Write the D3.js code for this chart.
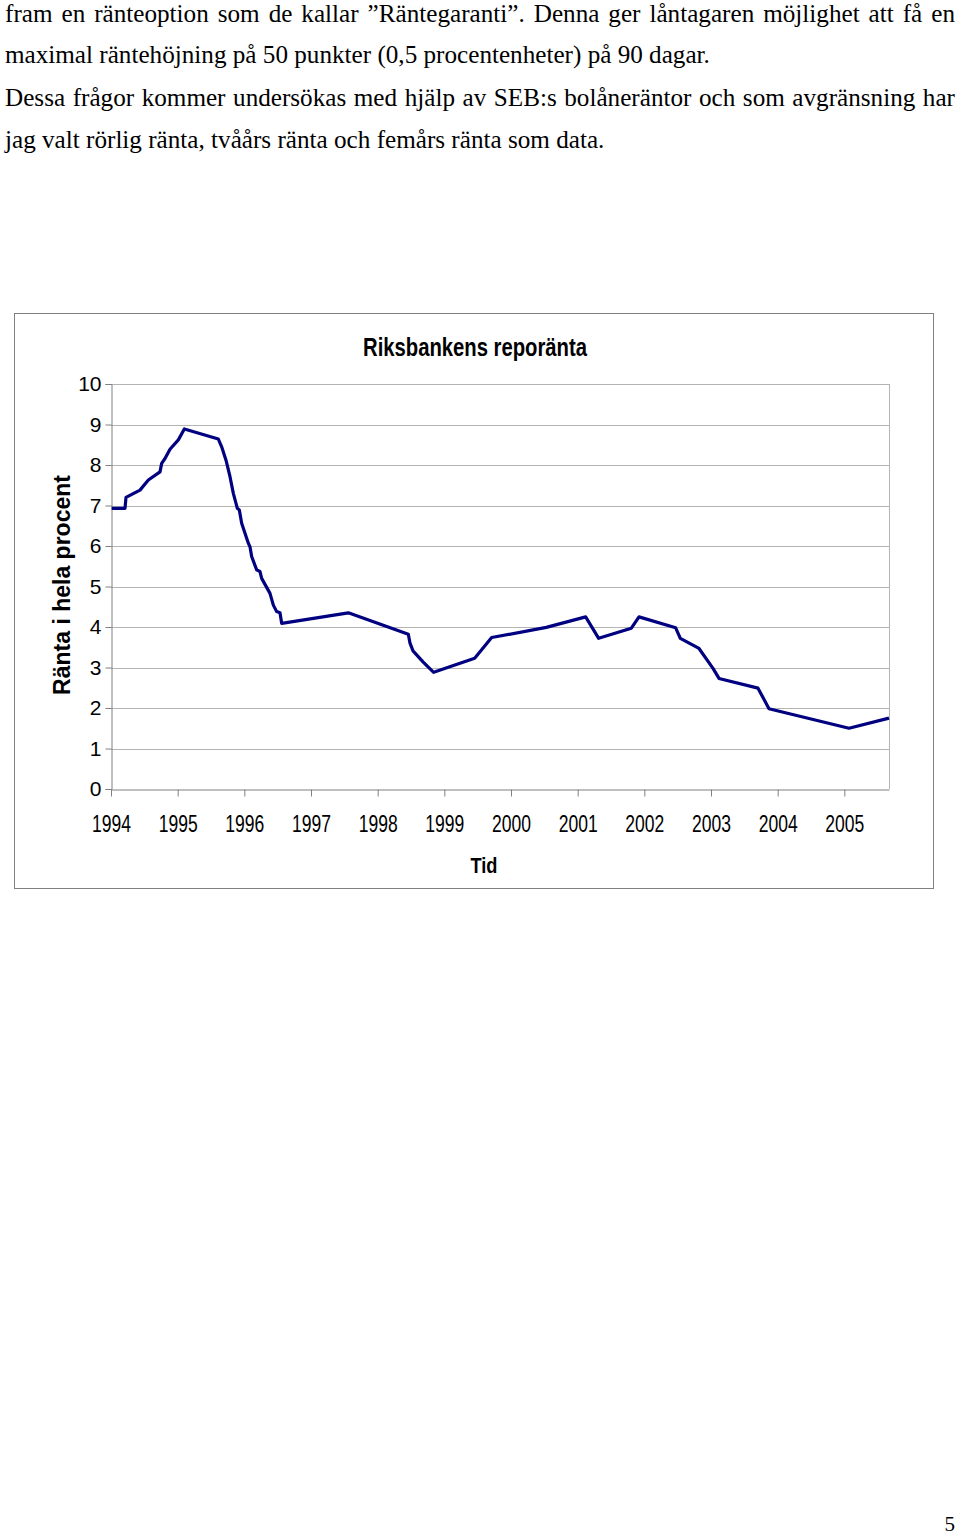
<!DOCTYPE html>
<html>
<head>
<meta charset="utf-8">
<script src="https://cdn.jsdelivr.net/npm/d3@7"></script>
<style>
  html, body { margin: 0; padding: 0; background: #fff; }
  svg { display: block; }
</style>
</head>
<body>
<svg id="page" width="960" height="1537"></svg>
<script>
// ---- Data ----
const bodyLines = [
  "fram en ränteoption som de kallar \u201DRäntegaranti\u201D. Denna ger låntagaren möjlighet att få en",
  "maximal räntehöjning på 50 punkter (0,5 procentenheter) på 90 dagar.",
  "Dessa frågor kommer undersökas med hjälp av SEB:s bolåneräntor och som avgränsning har",
  "jag valt rörlig ränta, tvåårs ränta och femårs ränta som data."
];
const justified = [true, false, true, false];

const chartTitle = "Riksbankens reporänta";
const xTitle = "Tid";
const yTitle = "Ränta i hela procent";

const yearTicks = [1994, 1995, 1996, 1997, 1998, 1999, 2000, 2001, 2002, 2003, 2004, 2005];
const yTicks = [0, 1, 2, 3, 4, 5, 6, 7, 8, 9, 10];

// decimal year of each observation
const dates = [
  1994.01, 1994.21, 1994.225, 1994.435, 1994.56, 1994.735, 1994.76, 1994.81, 1994.885, 1995.01,
  1995.10, 1995.61, 1995.66, 1995.725, 1995.785, 1995.835, 1995.895, 1995.925, 1995.96, 1996.06,
  1996.085, 1996.11, 1996.185, 1996.235, 1996.26, 1996.385, 1996.435, 1996.485, 1996.535, 1996.56,
  1997.56, 1998.46, 1998.485, 1998.53, 1998.68, 1998.84, 1999.455, 1999.71, 2000.53, 2001.12,
  2001.315, 2001.805, 2001.92, 2002.47, 2002.54, 2002.82, 2003.03, 2003.12, 2003.705, 2003.87,
  2005.07, 2005.67
];
// repo rate, percent
const rates = [
  6.93, 6.93, 7.20, 7.38, 7.63, 7.83, 8.04, 8.16, 8.39, 8.62,
  8.89, 8.64, 8.45, 8.12, 7.71, 7.30, 6.93, 6.89, 6.56, 6.07,
  5.98, 5.74, 5.41, 5.37, 5.20, 4.83, 4.54, 4.38, 4.35, 4.09,
  4.35, 3.82, 3.60, 3.41, 3.14, 2.88, 3.23, 3.74, 3.99, 4.25,
  3.72, 3.97, 4.25, 3.98, 3.72, 3.47, 2.98, 2.73, 2.49, 1.98,
  1.50, 1.75
];
const xDomain = [1994, 2005.67];
const yDomain = [0, 10];
const pageNumber = "5";

(function () {
// ---- Drawing ----
const svg = d3.select("#page");
const serif = "'Times New Roman', 'Liberation Serif', serif";
const sans = "Arial, 'Liberation Sans', sans-serif";

// Body text
const textFont = 25.5;
const baselines = [22, 63, 106, 148];
const probe = svg.append("text").attr("font-family", serif).attr("font-size", textFont).text(bodyLines[1]);
const natural2 = probe.node().getComputedTextLength();
probe.remove();
const sx = 705 / natural2;
bodyLines.forEach((line, i) => {
  const g = svg.append("g").attr("transform", `translate(5,${baselines[i]}) scale(${sx},1)`);
  const t = g.append("text").attr("x", 0).attr("y", 0)
    .attr("font-family", serif).attr("font-size", textFont).attr("fill", "#000")
    .text(line);
  if (justified[i]) {
    const w = t.node().getComputedTextLength();
    const gaps = (line.match(/ /g) || []).length;
    const ws = (950 / sx - w) / gaps;
    t.style("word-spacing", ws + "px");
  }
});

// Page number
svg.append("text").attr("x", 955).attr("y", 1531).attr("text-anchor", "end")
  .attr("font-family", serif).attr("font-size", 21).text(pageNumber);

// Chart frame
svg.append("rect").attr("x", 14.5).attr("y", 313.5).attr("width", 919).attr("height", 575)
  .attr("fill", "#fff").attr("stroke", "#808080").attr("stroke-width", 1);

const pLeft = 111, pRight = 889, pTop = 384, pBottom = 789;
const x = d3.scaleLinear().domain(xDomain).range([pLeft, pRight]);
const y = d3.scaleLinear().domain(yDomain).range([pBottom, pTop]);

// gridlines
svg.append("g").selectAll("line").data(yTicks.filter(d => d > 0)).join("line")
  .attr("x1", pLeft).attr("x2", pRight)
  .attr("y1", d => Math.round(y(d)) + 0.5).attr("y2", d => Math.round(y(d)) + 0.5)
  .attr("stroke", "#b4b4b4").attr("stroke-width", 1);

// right border of plot area
svg.append("line").attr("x1", pRight + 0.5).attr("x2", pRight + 0.5).attr("y1", pTop).attr("y2", pBottom)
  .attr("stroke", "#b4b4b4");

// y axis
const yAxis = d3.axisLeft(y).tickValues(yTicks).tickSize(6).tickPadding(4).tickFormat(d3.format("d"));
const gy = svg.append("g").attr("transform", `translate(${pLeft + 0.5},0)`).call(yAxis);
gy.select(".domain").attr("stroke", "#808080");
gy.selectAll(".tick line").attr("stroke", "#808080");
gy.selectAll(".tick text").attr("font-family", sans).attr("font-size", 21).attr("fill", "#000");

// x axis
const xAxis = d3.axisBottom(x).tickValues(yearTicks).tickSize(7).tickSizeOuter(0).tickPadding(0).tickFormat(d3.format("d"));
const gx = svg.append("g").attr("transform", `translate(0,${pBottom + 0.5})`).call(xAxis);
gx.select(".domain").attr("stroke", "#808080");
gx.selectAll(".tick line").attr("stroke", "#808080");
gx.selectAll(".tick text").attr("font-family", sans).attr("font-size", 23).attr("fill", "#000")
  .attr("dy", null).attr("y", 42)
  .attr("textLength", 39).attr("lengthAdjust", "spacingAndGlyphs");

// line
const data = dates.map((d, i) => ({ d, v: rates[i] }));
svg.append("path").datum(data)
  .attr("fill", "none").attr("stroke", "#000080").attr("stroke-width", 3.2)
  .attr("stroke-linejoin", "round")
  .attr("d", d3.line().x(p => x(p.d)).y(p => y(p.v)));

// titles
svg.append("text").attr("x", 475).attr("y", 356).attr("text-anchor", "middle")
  .attr("font-family", sans).attr("font-weight", "bold").attr("font-size", 25)
  .attr("textLength", 224).attr("lengthAdjust", "spacingAndGlyphs")
  .text(chartTitle);

svg.append("text").attr("x", 484).attr("y", 873).attr("text-anchor", "middle")
  .attr("font-family", sans).attr("font-weight", "bold").attr("font-size", 22)
  .attr("textLength", 27).attr("lengthAdjust", "spacingAndGlyphs")
  .text(xTitle);

svg.append("text").attr("transform", "translate(70,585) rotate(-90)").attr("text-anchor", "middle")
  .attr("font-family", sans).attr("font-weight", "bold").attr("font-size", 23)
  .text(yTitle);
})();
</script>
</body>
</html>
